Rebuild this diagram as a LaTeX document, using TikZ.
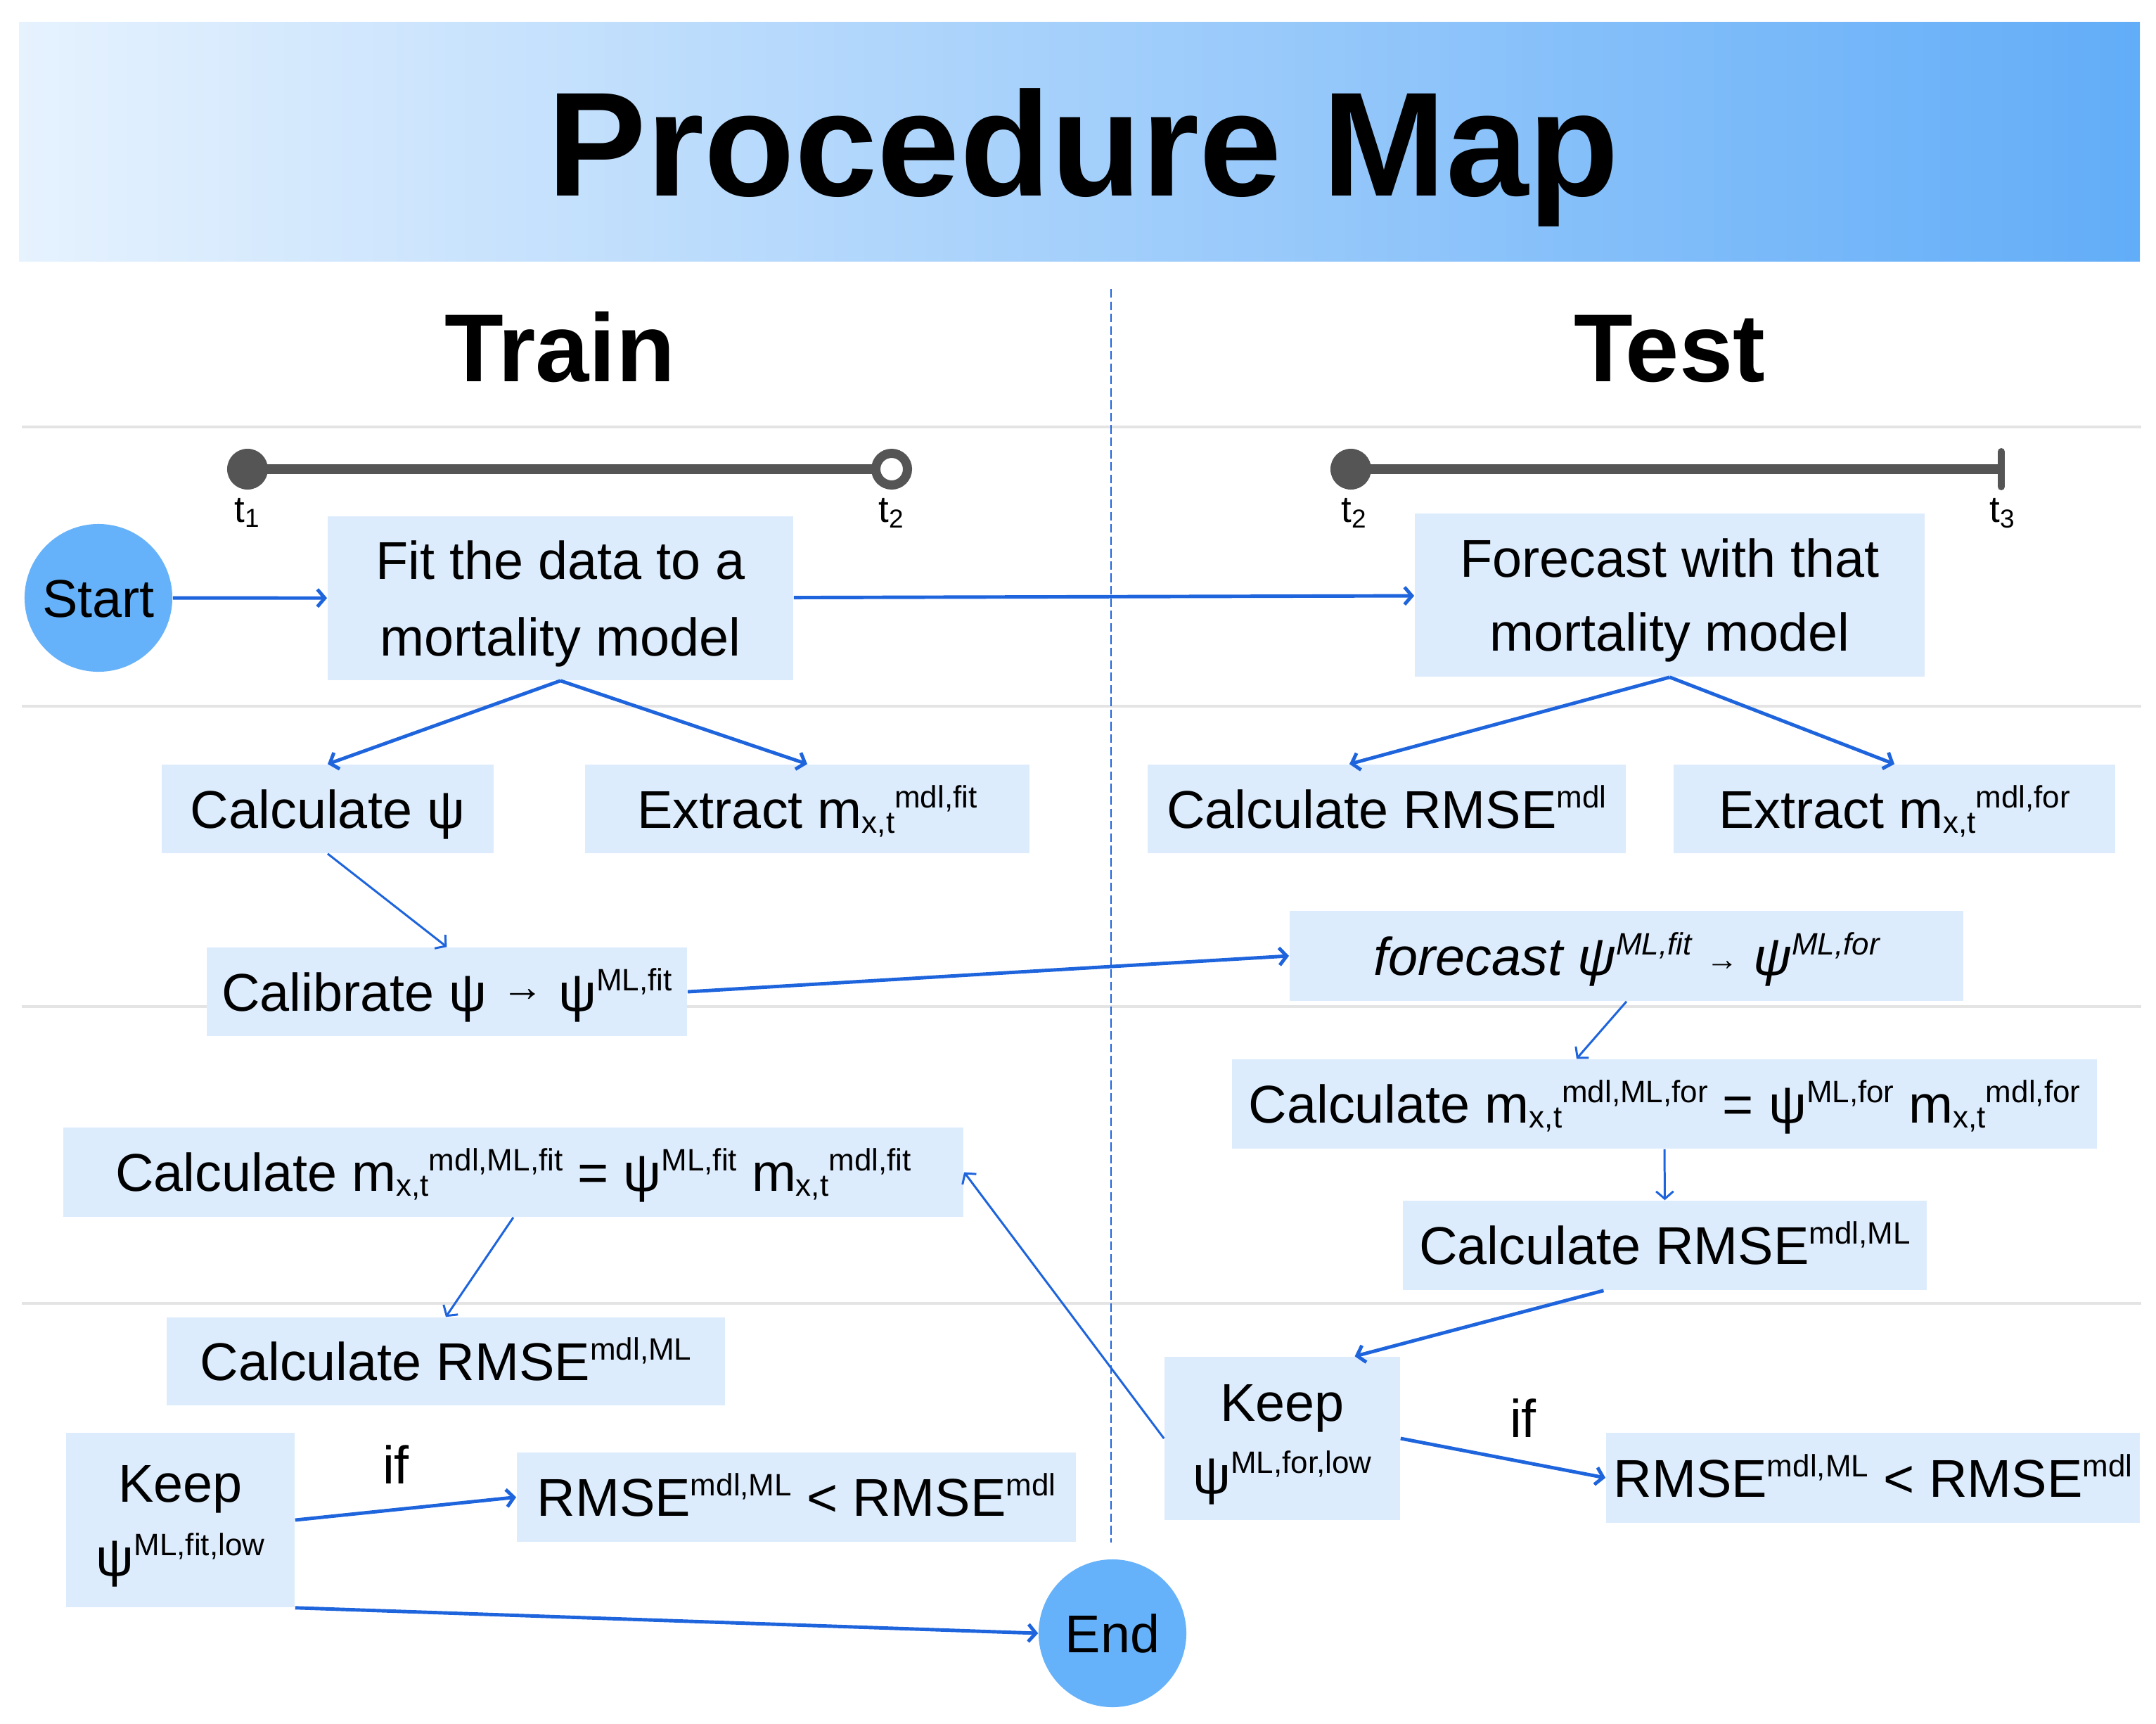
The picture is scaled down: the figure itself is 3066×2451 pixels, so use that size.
\documentclass[tikz,border=0pt]{standalone}
\usepackage{fontspec}
\setmainfont{Liberation Sans}
\usetikzlibrary{arrows.meta,calc}
\definecolor{boxblue}{HTML}{DDECFC}
\definecolor{circblue}{HTML}{66B2FA}
\definecolor{arrblue}{HTML}{1E64DC}
\definecolor{gridgray}{HTML}{E4E4E4}
\definecolor{tlgray}{HTML}{555555}
\definecolor{bannerL}{HTML}{E6F2FE}
\definecolor{bannerR}{HTML}{62ADF8}
\newcommand\sps[1]{\raisebox{0.29cm}{\fontsize{12.5}{12.5}\selectfont #1}}
\newcommand\sbs[1]{\raisebox{-0.07cm}{\fontsize{12.5}{12.5}\selectfont #1}}
\newcommand\smarr{\raisebox{0.14cm}{\fontsize{17}{17}\selectfont →}}
\newcommand\tinyarr{\raisebox{0.07cm}{\fontsize{13}{13}\selectfont\upshape →}}
\newcommand\tp{\rule{0pt}{0.70cm}}
\newcommand\bt{\rule[-0.16cm]{0pt}{0pt}}
\begin{document}
\begin{tikzpicture}[x=0.01cm,y=-0.01cm,
  box/.style={fill=boxblue, inner sep=0pt, align=center, font=\fontsize{21.5}{31}\selectfont},
  one/.style={text height=0.70cm, text depth=0.16cm},
  term/.style={circle, fill=circblue, inner sep=0pt, minimum size=2.1cm, font=\fontsize{21.5}{26}\selectfont, text height=0.70cm, text depth=0.16cm},
  conn/.style={draw=arrblue, line width=1.4pt, -{Straight Barb[length=3pt,width=7pt]}},
  conthin/.style={conn, line width=0.85pt},
  grid/.style={draw=gridgray, line width=1.1pt},
  tl/.style={draw=tlgray, line width=4pt},
  tlab/.style={anchor=base, font=\fontsize{15}{15}\selectfont},
  head/.style={anchor=base, font=\fontsize{39}{39}\selectfont\bfseries},
  iflab/.style={anchor=base, font=\fontsize{21.5}{26}\selectfont}]
\useasboundingbox (0,0) rectangle (3066,2451);
% banner
\shade[left color=bannerL, right color=bannerR] (27,31) rectangle (3043,371);
\node[anchor=base, font=\fontsize{60}{60}\selectfont\bfseries] (title) at (1541,278) {Procedure Map};
\node[head] (train) at (796,542) {Train};
\node[head] (test) at (2374,542) {Test};
% separators
\foreach \yy in {607,1004,1431,1853} \draw[grid] (31,\yy) -- (3045,\yy);
\draw[arrblue, line width=0.8pt, dash pattern=on 3.5pt off 1.5pt] (1580,411) -- (1580,2193);
% timelines
\coordinate (ta) at (352,667);
\coordinate (tb) at (1268,667);
\coordinate (tc) at (1921,667);
\coordinate (td) at (2846,667);
\draw[tl] (ta) -- (tb);
\fill[tlgray] (ta) circle (0.29cm);
\draw[tlgray, line width=0.13cm, fill=white] (tb) circle (0.225cm);
\draw[tl] (tc) -- (td);
\fill[tlgray] (tc) circle (0.29cm);
\draw[tlgray, line width=0.1cm, line cap=round] ([yshift=0.25cm]td) -- ([yshift=-0.25cm]td);
\node[tlab] (l1) at (352,742) {t\textsubscript{1}};
\node[tlab] (l2) at (1268,742) {t\textsubscript{2}};
\node[tlab] (l3) at (1926,742) {t\textsubscript{2}};
\node[tlab] (l4) at (2848,742) {t\textsubscript{3}};
% nodes
\node[term] (start) at (140,850) {Start};
\node[term] (end) at (1582,2322) {End};
\node[box, minimum width=6.62cm, minimum height=2.33cm] (fit) at (797,850.5) {\tp Fit the data to a\\mortality model\bt};
\node[box, font=\fontsize{21.5}{30}\selectfont, minimum width=7.25cm, minimum height=2.32cm] (forecast) at (2374.5,846) {\tp Forecast with that\\mortality model\bt};
\node[box, one, minimum width=4.72cm, minimum height=1.26cm] (calcpsi) at (466,1150) {Calculate ψ};
\node[box, one, minimum width=6.32cm, minimum height=1.26cm] (extract1) at (1148,1150) {Extract m\sbs{x,t}\sps{mdl,fit}};
\node[box, one, minimum width=6.83cm, minimum height=1.26cm] (calib) at (635.5,1410) {Calibrate ψ \smarr\ ψ\sps{ML,fit}};
\node[box, one, minimum width=6.80cm, minimum height=1.26cm] (rmse1) at (1972,1150) {Calculate RMSE\sps{mdl}};
\node[box, one, minimum width=6.28cm, minimum height=1.26cm] (extract2) at (2694,1150) {Extract m\sbs{x,t}\sps{mdl,for}};
\node[box, one, minimum width=9.58cm, minimum height=1.28cm] (fpsi) at (2313,1359) {\itshape forecast ψ\sps{ML,fit} \tinyarr\ ψ\sps{ML,for}};
\node[box, one, minimum width=12.30cm, minimum height=1.27cm] (calcm2) at (2367,1569.5) {Calculate m\sbs{x,t}\sps{mdl,ML,for} = ψ\sps{ML,for} m\sbs{x,t}\sps{mdl,for}};
\node[box, one, minimum width=7.45cm, minimum height=1.27cm] (rmse2) at (2367.5,1770.5) {Calculate RMSE\sps{mdl,ML}};
\node[box, font=\fontsize{21.5}{29.5}\selectfont, minimum width=3.35cm, minimum height=2.32cm] (keep2) at (1823.5,2045) {\tp Keep\\ψ\sps{ML,for,low}\bt};
\node[box, one, minimum width=7.59cm, minimum height=1.28cm] (cond2) at (2663.5,2101) {RMSE\sps{mdl,ML} < RMSE\sps{mdl}};
\node[box, one, minimum width=12.8cm, minimum height=1.27cm] (calcm1) at (730,1666.5) {Calculate m\sbs{x,t}\sps{mdl,ML,fit} = ψ\sps{ML,fit} m\sbs{x,t}\sps{mdl,fit}};
\node[box, one, minimum width=7.94cm, minimum height=1.25cm] (rmse3) at (634,1935.5) {Calculate RMSE\sps{mdl,ML}};
\node[box, font=\fontsize{21.5}{30}\selectfont, minimum width=3.25cm, minimum height=2.48cm] (keep1) at (256.5,2161) {\tp Keep\\ψ\sps{ML,fit,low}\bt};
\node[box, one, minimum width=7.95cm, minimum height=1.27cm] (cond1) at (1132.5,2128.5) {RMSE\sps{mdl,ML} < RMSE\sps{mdl}};
\node[iflab] (if1) at (563,2109) {if};
\node[iflab] (if2) at (2166,2043) {if};
% connectors
\draw[conn] (start) -- (fit);
\draw[conn] (fit) -- (forecast);
\draw[conn] (fit.south) -- (calcpsi.north);
\draw[conn] (fit.south) -- (extract1.north);
\draw[conn] (forecast.south) -- ([xshift=-0.53cm]rmse1.north);
\draw[conn] (forecast.south) -- (extract2.north);
\draw[conthin] (calcpsi.south) -- (calib.north);
\draw[conn] (calib.east) -- (fpsi.west);
\draw[conthin] (fpsi.south) -- ([xshift=-1.25cm]calcm2.north);
\draw[conthin] (calcm2.south) -- (rmse2.north);
\draw[conn] ([xshift=-0.87cm]rmse2.south) -- ([xshift=1.03cm]keep2.north);
\draw[conn] (keep2.east) -- (cond2.west);
\draw[conthin] (keep2.west) -- (calcm1.east);
\draw[conthin] (calcm1.south) -- (rmse3.north);
\draw[conn] (keep1.east) -- (cond1.west);
\draw[conn] (keep1.south east) -- (end.west);
\end{tikzpicture}
\end{document}
